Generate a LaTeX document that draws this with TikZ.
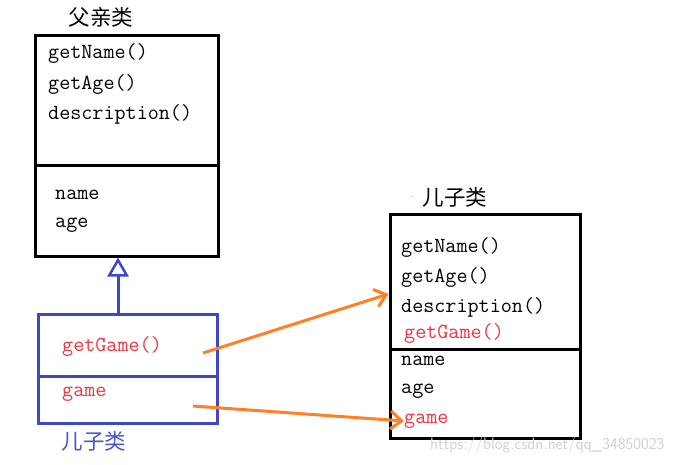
\documentclass[tikz,border=0pt]{standalone}
\usepackage{fontspec}
\newfontfamily\cjk{Noto Sans CJK SC}
\usetikzlibrary{arrows.meta}
\definecolor{boxblue}{RGB}{60,72,200}
\definecolor{txtred}{RGB}{238,52,62}
\definecolor{arrorange}{RGB}{255,128,38}
\definecolor{lblblue}{RGB}{70,85,205}
\tikzset{
  blackbox/.style={draw=black,line width=3pt,inner sep=0pt},
  bluebox/.style={draw=boxblue,line width=3pt,inner sep=0pt},
  member/.style={anchor=west,inner sep=0pt,font=\fontsize{21.5}{24}\selectfont\ttfamily},
  redmember/.style={member,text=txtred},
  title/.style={inner sep=0pt,font=\fontsize{21.5}{24}\selectfont\cjk},
  orangearrow/.style={draw=arrorange,line width=3pt,-{Straight Barb[length=11pt,width=18pt,line width=3pt]}},
}
\begin{document}
\begin{tikzpicture}[x=1pt,y=-1pt]
\useasboundingbox (0,0) rectangle (683,464);
% father class
\node[title] (ftitle) at (101,17) {父亲类};
\node[blackbox,minimum width=183pt,minimum height=130pt] (fop) at (126.5,100) {};
\node[blackbox,minimum width=183pt,minimum height=91pt] (fat) at (126.5,210.5) {};
\node[member] (f1) at (48,53) {getName()};
\node[member] (f2) at (48,84) {getAge()};
\node[member] (f3) at (48,114) {description()};
\node[member] (f4) at (55,195) {name};
\node[member] (f5) at (55,225) {age};
% child class (blue)
\node[bluebox,minimum width=179pt,minimum height=62pt] (cop) at (127.5,345) {};
\node[bluebox,minimum width=179pt,minimum height=47pt] (cat) at (127.5,399.5) {};
\node[redmember] (c1) at (62,346) {getGame()};
\node[redmember] (c2) at (62,394) {game};
\node[title,text=lblblue] (ctitle) at (94,441) {儿子类};
\coordinate (inhs) at (118,314);
\coordinate (inhe) at (118,257);
\draw[draw=boxblue,line width=3pt,-{Triangle[open,length=19pt,width=21pt,line width=2.5pt,fill=white]}] (cop.north -| inhs) -- (fat.south -| inhe);
% right child class
\node[title] (rtitle) at (455,197) {儿子类};
\node[inner sep=0pt,text=black!35,font=\fontsize{8}{8}\selectfont] (rdash) at (412,198) {-};
\node[blackbox,minimum width=190pt,minimum height=135pt] (rop) at (485,281.5) {};
\node[blackbox,minimum width=190pt,minimum height=89pt] (rat) at (485,393.5) {};
\node[member] (r1) at (401,247) {getName()};
\node[member] (r2) at (401,277) {getAge()};
\node[member] (r3) at (401,307) {description()};
\node[redmember] (r4) at (404,333) {getGame()};
\node[member] (r5) at (401,361) {name};
\node[member] (r6) at (401,391) {age};
\node[redmember] (r7) at (404,421) {game};
% orange arrows
\coordinate (a1s) at (203,353);
\coordinate (a2s) at (193,406);
\draw[orangearrow] (a1s) -- (rop.west |- 0,294);
\draw[orangearrow] (a2s) -- (r7.west);
% watermark
\node[inner sep=0pt,anchor=west,text=black!18,font=\fontsize{16.5}{17}\selectfont\sffamily] (wm) at (430,445) {https://blog.csdn.net/qq\_34850023};
\end{tikzpicture}
\end{document}
